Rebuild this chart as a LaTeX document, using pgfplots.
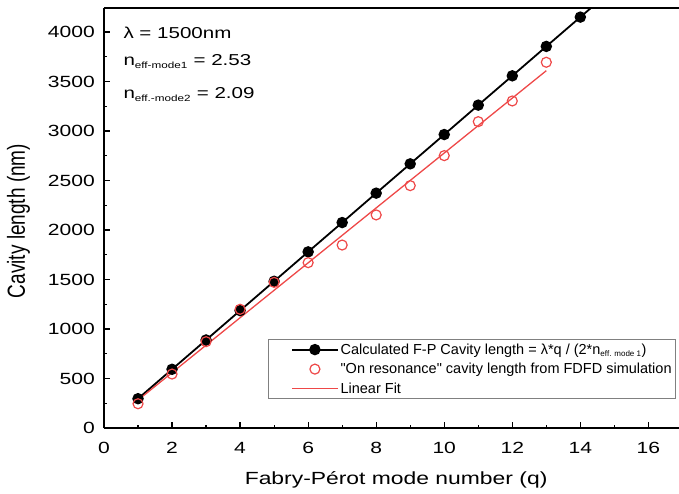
\documentclass[border=0pt]{standalone}
\usepackage{pgfplots}
\pgfplotsset{compat=1.18}
\usepackage{fontspec}
\setmainfont{Liberation Sans}[FakeStretch=1.3]
\newfontfamily\plainfont{Liberation Sans}
\definecolor{myred}{RGB}{238,72,72}
\begin{document}
\begin{tikzpicture}
\begin{axis}[
  scale only axis, width=575pt, height=420pt,
  xmin=0, xmax=16.9, ymin=0, ymax=4242,
  axis x line*=bottom, axis y line*=left,
  x axis line style={-, line width=1.4pt},
  y axis line style={-, line width=1.4pt},
  xtick={0,2,...,16}, minor xtick={1,3,...,15},
  ytick={0,500,...,4000}, minor ytick={250,750,...,4250},
  tick align=inside,
  major tick length=6pt, minor tick length=3.5pt,
  every tick/.style={line width=1.2pt, black},
  ticklabel style={font=\fontsize{16.2}{18}\selectfont},
  yticklabel style={inner sep=0pt, anchor=east, xshift=-9pt},
  xticklabel style={inner sep=0pt, anchor=north, yshift=-14pt},
  /pgf/number format/assume math mode=true,
  /pgf/number format/1000 sep={},
  xlabel={Fabry-Pérot mode number (q)},
  ylabel={\scalebox{1}[1.3]{\plainfont\fontsize{19}{21}\selectfont Cavity length (nm)}},
  every axis x label/.style={at={(axis description cs:0.508,-0.1357)}, anchor=base, font=\fontsize{17.6}{20}\selectfont},
  every axis y label/.style={at={(axis description cs:-0.1487,0.493)}, anchor=center, rotate=90},
  legend style={at={(0.9948,0.069)}, anchor=south east, draw=gray, line width=0.8pt,
    font=\plainfont\fontsize{14.5}{16}\selectfont, cells={anchor=west}, row sep=3.5pt, inner sep=2pt},
  legend image code/.code={\path[draw=none, fill=none, mark=none] (-0.75cm,0cm) -- (0cm,0cm); \draw[mark repeat=2,mark phase=2] plot coordinates {(0cm,0cm) (0.8cm,0cm) (1.6cm,0cm)};},
  clip=true,
]
\addplot[black, line width=1.8pt, mark=*, mark size=4.8pt, mark options={solid, fill=black}]
  coordinates {(1,296)(2,593)(3,889)(4,1186)(5,1482)(6,1779)(7,2075)(8,2372)(9,2668)(10,2964)(11,3261)(12,3557)(13,3854)(14,4150)};
\addlegendentry{Calculated F-P Cavity length = λ*q / (2*n\textsubscript{\fontsize{8}{9}\selectfont eff. mode 1})}
\addplot[myred, only marks, mark=o, mark size=5pt, mark options={line width=1.2pt}]
  coordinates {(1,245)(2,545)(3,872)(4,1199)(5,1471)(6,1670)(7,1848)(8,2152)(9,2448)(10,2751)(11,3094)(12,3303)(13,3694)};
\addlegendentry{"On resonance" cavity length from FDFD simulation}
\addplot[myred, line width=1.3pt] coordinates {(1,282)(13,3609)};
\addlegendentry{Linear Fit}
\addplot[black, line width=1.8pt, forget plot] coordinates {(14,4150)(14.5,4298)};
\draw[line width=1.4pt] (rel axis cs:0,1) -- (rel axis cs:1,1);
\coordinate (bl) at (rel axis cs:0,0);
\node[anchor=base west, font=\fontsize{15.8}{18}\selectfont] at (axis cs:0.47,3936) {λ = 1500nm};
\node[anchor=base west, font=\fontsize{15.8}{18}\selectfont] at (axis cs:0.47,3657) {n\textsubscript{\fontsize{9}{10}\selectfont eff-mode1} = 2.53};
\node[anchor=base west, font=\fontsize{15.8}{18}\selectfont] at (axis cs:0.47,3323) {n\textsubscript{\fontsize{9}{10}\selectfont eff.-mode2} = 2.09};
\end{axis}
\pgfresetboundingbox
\path (bl) ++(-104pt,-65pt) rectangle ++(679pt,493pt);
\end{tikzpicture}
\end{document}
